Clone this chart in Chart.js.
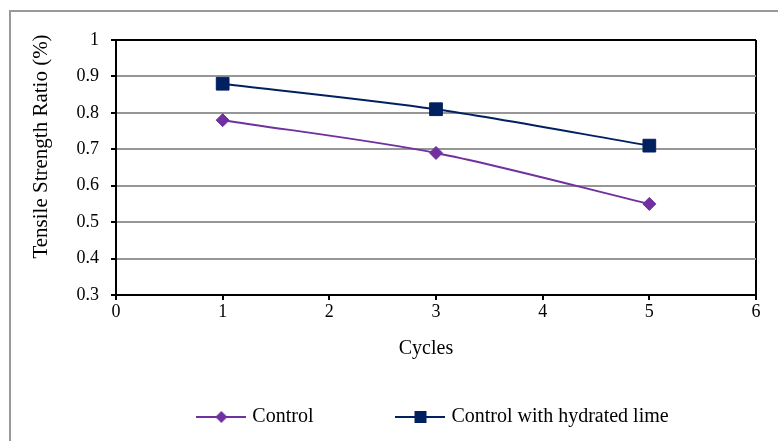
<!DOCTYPE html>
<html lang="en">
<head>
    <meta charset="UTF-8">
    <title>Tensile Strength Ratio</title>
    <script src="https://cdn.jsdelivr.net/npm/chart.js@4.4.0/dist/chart.umd.min.js"></script>
    <style>
        body { margin: 0; background: #fff; }
    </style>
</head>
<body>
    <canvas id="myChart" width="778" height="441"></canvas>
    <script>
        var cycles = [1, 3, 5];
        var control = [0.78, 0.69, 0.55];
        var controlLime = [0.88, 0.81, 0.71];
        var seriesNames = ['Control', 'Control with hydrated lime'];
        var xTitle = 'Cycles';
        var yTitle = 'Tensile Strength Ratio (%)';

        var serif = "'Liberation Serif', 'Times New Roman', serif";
        Chart.defaults.font.family = serif;
        Chart.defaults.color = '#000';

        function toPoints(values) {
            var pts = [];
            for (var i = 0; i < values.length; i++) {
                pts.push({x: cycles[i], y: values[i]});
            }
            return pts;
        }

        // little line+marker picture for the legend
        function legendIcon(color, style) {
            var c = document.createElement('canvas');
            c.width = 50; c.height = 16;
            var g = c.getContext('2d');
            g.strokeStyle = color; g.lineWidth = 2;
            g.beginPath(); g.moveTo(0, 8); g.lineTo(50, 8); g.stroke();
            g.fillStyle = color;
            if (style == 'rect') {
                g.fillRect(19, 2, 12, 12);
            } else {
                g.beginPath();
                g.moveTo(25, 2); g.lineTo(31, 8); g.lineTo(25, 14); g.lineTo(19, 8);
                g.closePath(); g.fill();
            }
            return c;
        }

        var frame = {
            id: 'frame',
            afterLayout: function(chart) {
                // centre the legend under the plot like the original
                var lg = chart.legend, a = chart.chartArea;
                var dx = (a.left + a.right) / 2 - 1.5 - (lg.left + lg.right) / 2;
                lg.left += dx;
                lg.right += dx;
            },
            beforeDraw: function(chart) {
                var ctx = chart.ctx;
                ctx.save();
                ctx.fillStyle = '#fff';
                ctx.fillRect(0, 0, chart.width, chart.height);
                ctx.strokeStyle = '#999';
                ctx.lineWidth = 2;
                ctx.beginPath();
                ctx.moveTo(10, chart.height);
                ctx.lineTo(10, 11);
                ctx.lineTo(chart.width, 11);
                ctx.stroke();
                ctx.restore();
            },
            afterDraw: function(chart) {
                var a = chart.chartArea;
                var ctx = chart.ctx;
                ctx.save();
                ctx.fillStyle = '#000';
                ctx.textAlign = 'center';
                ctx.textBaseline = 'alphabetic';
                ctx.font = '20px ' + serif;
                ctx.fillText(xTitle, (a.left + a.right) / 2 - 10, a.bottom + 59);
                ctx.font = '21px ' + serif;
                ctx.translate(a.left - 69, (a.top + a.bottom) / 2 - 21);
                ctx.rotate(-Math.PI / 2);
                ctx.fillText(yTitle, 0, 0);
                ctx.restore();
            }
        };

        var ctx = document.getElementById("myChart").getContext('2d');
        var chart = new Chart(ctx, {
            type: 'line',
            data: {
                datasets: [
                    {
                        label: seriesNames[0],
                        data: toPoints(control),
                        borderColor: '#7030A0',
                        backgroundColor: '#7030A0',
                        borderWidth: 2,
                        pointStyle: 'rectRot',
                        pointRadius: 6.5,
                        pointBorderWidth: 1,
                        tension: 0.3
                    },
                    {
                        label: seriesNames[1],
                        data: toPoints(controlLime),
                        borderColor: '#002060',
                        backgroundColor: '#002060',
                        borderWidth: 2,
                        pointStyle: 'rect',
                        pointRadius: 9,
                        pointBorderWidth: 1,
                        tension: 0.3
                    }
                ]
            },
            options: {
                responsive: false,
                animation: false,
                layout: {padding: {top: 40, left: 56, right: 0, bottom: 4}},
                plugins: {
                    tooltip: {enabled: false},
                    legend: {
                        position: 'bottom',
                        labels: {
                            usePointStyle: true,
                            pointStyleWidth: 42,
                            padding: 86,
                            color: '#000',
                            font: {size: 20, family: serif},
                            generateLabels: function(ch) {
                                return ch.data.datasets.map(function(ds, i) {
                                    return {
                                        text: ds.label,
                                        pointStyle: legendIcon(ds.borderColor, ds.pointStyle),
                                        fillStyle: ds.borderColor,
                                        strokeStyle: ds.borderColor,
                                        lineWidth: 0,
                                        fontColor: '#000',
                                        datasetIndex: i
                                    };
                                });
                            }
                        }
                    }
                },
                scales: {
                    x: {
                        type: 'linear',
                        min: 0,
                        max: 6,
                        ticks: {stepSize: 1, padding: 1, font: {size: 18}, color: '#000'},
                        grid: {
                            color: function(c) { return c.tick && c.tick.value == 6 ? '#000' : 'rgba(0,0,0,0)'; },
                            tickColor: '#000',
                            tickLength: 5,
                            lineWidth: 2,
                            tickWidth: 2
                        },
                        border: {color: '#000', width: 2},
                        afterFit: function(scale) {
                            scale.paddingRight = 22;
                            var lh = scale.chart.legend ? scale.chart.legend.height : 116;
                            scale.height = scale.chart.height - 4 - lh - 295;
                        }
                    },
                    y: {
                        min: 0.3,
                        max: 1,
                        ticks: {
                            stepSize: 0.1,
                            padding: 12,
                            font: {size: 18},
                            color: '#000',
                            callback: function(v) { return String(Math.round(v * 10) / 10); }
                        },
                        grid: {
                            color: function(c) { return c.tick && c.tick.value >= 0.999 ? '#000' : '#969696'; },
                            tickColor: '#000',
                            tickLength: 5,
                            lineWidth: 2,
                            tickWidth: 2
                        },
                        border: {color: '#000', width: 2},
                        afterFit: function(scale) {
                            scale.width = 60;
                        }
                    }
                }
            },
            plugins: [frame]
        });
    </script>
</body>
</html>
